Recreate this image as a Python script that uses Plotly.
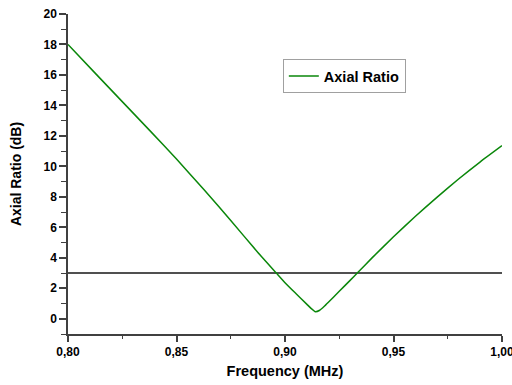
import plotly.graph_objects as go

# Data
freq_mhz = [0.800, 0.8125, 0.825, 0.8375, 0.850, 0.8625, 0.875, 0.8875, 0.896,
            0.900, 0.905, 0.910, 0.912, 0.914, 0.916, 0.918, 0.920, 0.925,
            0.930, 0.9333, 0.940, 0.950, 0.960, 0.970, 0.980, 0.990, 1.000]
axial_ratio_db = [18.0, 16.12, 14.25, 12.38, 10.48, 8.5, 6.45, 4.35, 3.0,
                  2.37, 1.66, 0.96, 0.68, 0.46, 0.56, 0.8, 1.08, 1.8,
                  2.52, 3.0, 3.98, 5.38, 6.71, 7.97, 9.17, 10.3, 11.36]
threshold_x = [0.80, 1.00]
threshold_db = [3.0, 3.0]

FONT = "Liberation Sans, Arial, sans-serif"

fig = go.Figure()
fig.add_trace(go.Scatter(
    x=threshold_x, y=threshold_db, mode="lines",
    line=dict(color="#505050", width=2), showlegend=False, hoverinfo="skip"))
fig.add_trace(go.Scatter(
    x=freq_mhz, y=axial_ratio_db, mode="lines", name="<b>Axial Ratio</b>",
    line=dict(color="#0a870a", width=1.5, shape="spline", smoothing=0.5)))

fig.update_layout(
    template="none",
    width=512, height=385,
    margin=dict(l=68, r=10, t=14, b=51),
    paper_bgcolor="white", plot_bgcolor="white",
    separators=",.",
    font=dict(family=FONT, color="black"),
    showlegend=True,
    legend=dict(
        x=0.495, y=0.806, xanchor="left", yanchor="middle",
        bordercolor="#a0a0a0", borderwidth=1, bgcolor="white",
        font=dict(family=FONT, size=14.5, color="black"),
        itemwidth=30, tracegroupgap=0),
    xaxis=dict(
        range=[0.8, 1.0], tick0=0.8, dtick=0.05, tickformat=".2f",
        showgrid=False, zeroline=False, automargin=False,
        ticklabeloverflow="allow",
        showline=True, linecolor="#404040", linewidth=1.5, mirror=False,
        ticks="outside", ticklen=6, tickwidth=1.5, tickcolor="#404040",
        minor=dict(dtick=0.025, ticks="outside", ticklen=3, tickwidth=1.2,
                   tickcolor="#404040", showgrid=False),
        tickfont=dict(family=FONT, size=12, color="black"),
        title=dict(text="<b>Frequency (MHz)</b>", standoff=8,
                   font=dict(family=FONT, size=14.5, color="black")),
    ),
    yaxis=dict(
        range=[-1, 20], tick0=0, dtick=2,
        showgrid=False, zeroline=False, automargin=False,
        ticklabeloverflow="allow",
        showline=True, linecolor="#404040", linewidth=1.5, mirror=False,
        ticks="outside", ticklen=7, tickwidth=1.5, tickcolor="#404040",
        minor=dict(dtick=1, ticks="outside", ticklen=5, tickwidth=1.2,
                   tickcolor="#404040", showgrid=False),
        tickfont=dict(family=FONT, size=12, color="black"),
        title=dict(text="<b>Axial Ratio (dB)</b>", standoff=19,
                   font=dict(family=FONT, size=14, color="black")),
    ),
)
fig.update_xaxes(tickprefix="<b>", ticksuffix="</b>")
fig.update_yaxes(tickprefix="<b>", ticksuffix="</b>")

fig.write_html("out.html",
               config={"displayModeBar": False},
               post_script="document.body.style.margin='0';"
                           "document.body.style.overflow='hidden';")
